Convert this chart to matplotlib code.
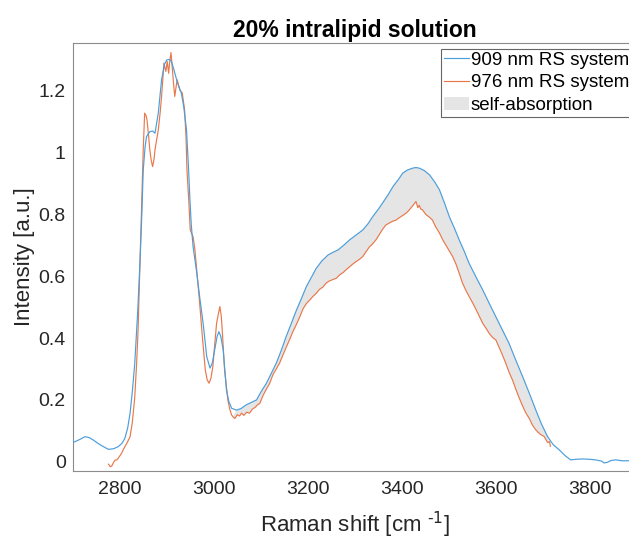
import numpy as np
import matplotlib
matplotlib.use("Agg")
import matplotlib.pyplot as plt

# --- datos (Raman shift en cm-1, intensidad en u.a.) ---
x_909 = [2700, 2705, 2715, 2726, 2735, 2744, 2755, 2765, 2776, 2787, 2797, 2805,
         2811, 2817, 2822, 2827, 2832, 2838, 2843, 2847, 2850, 2854, 2857, 2864,
         2870, 2875, 2882, 2889, 2895, 2900, 2905, 2910, 2915, 2921, 2926, 2931,
         2936, 2942, 2946, 2949, 2952, 2956, 2963, 2970, 2978, 2985, 2992, 2997,
         3002, 3007, 3011, 3015, 3020, 3024, 3027, 3032, 3038, 3048, 3058, 3069,
         3080, 3091, 3100, 3112, 3122, 3133, 3144, 3154, 3165, 3176, 3187, 3197,
         3208, 3218, 3230, 3243, 3254, 3264, 3276, 3289, 3303, 3317, 3328, 3338,
         3349, 3359, 3370, 3381, 3392, 3402, 3412, 3423, 3430, 3437, 3448, 3459,
         3470, 3480, 3490, 3501, 3512, 3522, 3533, 3543, 3557, 3572, 3586, 3600,
         3614, 3628, 3642, 3657, 3671, 3685, 3697, 3710, 3722, 3735, 3747, 3759,
         3772, 3784, 3798, 3812, 3825, 3830, 3837, 3845, 3855, 3868, 3881, 3900]
y_909 = [0.062, 0.065, 0.072, 0.081, 0.078, 0.070, 0.058, 0.049, 0.040, 0.042, 0.049, 0.060,
         0.076, 0.110, 0.157, 0.230, 0.319, 0.480, 0.643, 0.800, 0.944, 1.020, 1.052, 1.068,
         1.070, 1.063, 1.128, 1.236, 1.285, 1.300, 1.302, 1.295, 1.270, 1.236, 1.212, 1.193,
         1.150, 1.074, 0.960, 0.858, 0.770, 0.696, 0.620, 0.534, 0.440, 0.340, 0.303, 0.320,
         0.362, 0.405, 0.421, 0.405, 0.362, 0.290, 0.232, 0.195, 0.173, 0.167, 0.172, 0.184,
         0.192, 0.200, 0.225, 0.254, 0.285, 0.319, 0.362, 0.405, 0.448, 0.491, 0.530, 0.567,
         0.598, 0.626, 0.650, 0.669, 0.678, 0.685, 0.700, 0.718, 0.734, 0.750, 0.770, 0.793,
         0.815, 0.837, 0.862, 0.890, 0.912, 0.934, 0.944, 0.950, 0.952, 0.950, 0.942, 0.928,
         0.905, 0.880, 0.840, 0.793, 0.755, 0.718, 0.680, 0.642, 0.600, 0.556, 0.512, 0.469,
         0.426, 0.383, 0.330, 0.275, 0.222, 0.167, 0.122, 0.081, 0.055, 0.038, 0.020, 0.006,
         0.008, 0.009, 0.008, 0.006, 0.002, -0.004, -0.002, 0.004, 0.006, 0.003, 0.003, 0.004]

x_976 = [2776, 2780, 2783, 2787, 2790, 2794, 2797, 2803, 2811, 2816, 2822, 2827,
         2832, 2836, 2839, 2843, 2847, 2850, 2853, 2856, 2858, 2861, 2864, 2867,
         2870, 2873, 2875, 2879, 2882, 2886, 2889, 2892, 2894, 2896, 2898, 2901,
         2904, 2906, 2909, 2912, 2915, 2917, 2920, 2922, 2925, 2928, 2933, 2938,
         2941, 2943, 2947, 2950, 2953, 2956, 2960, 2965, 2970, 2976, 2982, 2986,
         2990, 2994, 2998, 3002, 3006, 3010, 3013, 3016, 3018, 3021, 3023, 3027,
         3030, 3034, 3038, 3041, 3045, 3050, 3055, 3059, 3064, 3070, 3076, 3082,
         3088, 3093, 3098, 3105, 3112, 3119, 3126, 3133, 3140, 3147, 3154, 3161,
         3168, 3176, 3183, 3190, 3197, 3204, 3211, 3218, 3225, 3232, 3239, 3246,
         3254, 3261, 3268, 3275, 3282, 3289, 3296, 3303, 3310, 3317, 3324, 3331,
         3338, 3345, 3352, 3359, 3366, 3373, 3380, 3388, 3395, 3402, 3409, 3416,
         3423, 3430, 3434, 3437, 3440, 3444, 3451, 3458, 3465, 3472, 3480, 3487,
         3494, 3501, 3508, 3515, 3522, 3529, 3536, 3543, 3551, 3558, 3565, 3572,
         3579, 3586, 3593, 3600, 3607, 3614, 3621, 3628, 3636, 3643, 3650, 3657,
         3664, 3671, 3678, 3685, 3690, 3695, 3700, 3703, 3707, 3710, 3714, 3716]
y_976 = [-0.008, -0.016, -0.014, -0.002, 0.005, 0.006, 0.012, 0.025, 0.049, 0.062, 0.081, 0.130,
         0.210, 0.320, 0.426, 0.640, 0.858, 1.010, 1.128, 1.120, 1.106, 1.060, 1.009, 0.975,
         0.955, 0.980, 1.009, 1.045, 1.074, 1.130, 1.182, 1.250, 1.290, 1.275, 1.263, 1.295,
         1.257, 1.290, 1.324, 1.268, 1.215, 1.182, 1.215, 1.236, 1.220, 1.203, 1.193, 1.139,
         1.050, 0.944, 0.840, 0.750, 0.738, 0.728, 0.685, 0.600, 0.513, 0.400, 0.297, 0.265,
         0.254, 0.270, 0.308, 0.380, 0.448, 0.480, 0.502, 0.470, 0.426, 0.350, 0.297, 0.240,
         0.200, 0.170, 0.151, 0.145, 0.140, 0.152, 0.148, 0.157, 0.150, 0.160, 0.157, 0.170,
         0.176, 0.184, 0.189, 0.215, 0.235, 0.254, 0.282, 0.300, 0.319, 0.345, 0.370, 0.394,
         0.420, 0.445, 0.469, 0.495, 0.512, 0.523, 0.535, 0.545, 0.558, 0.565, 0.578, 0.585,
         0.590, 0.594, 0.605, 0.612, 0.622, 0.631, 0.640, 0.648, 0.655, 0.664, 0.680, 0.695,
         0.705, 0.718, 0.735, 0.752, 0.766, 0.772, 0.778, 0.782, 0.790, 0.797, 0.804, 0.815,
         0.828, 0.842, 0.822, 0.830, 0.818, 0.815, 0.800, 0.792, 0.782, 0.760, 0.740, 0.718,
         0.700, 0.682, 0.664, 0.640, 0.610, 0.578, 0.555, 0.535, 0.513, 0.492, 0.470, 0.448,
         0.432, 0.415, 0.402, 0.394, 0.370, 0.345, 0.319, 0.290, 0.262, 0.232, 0.205, 0.180,
         0.157, 0.140, 0.118, 0.103, 0.095, 0.088, 0.084, 0.081, 0.070, 0.062, 0.065, 0.050]

inicio_banda = 3040   # donde empieza la zona de autoabsorción
xticks = [2800, 3000, 3200, 3400, 3600, 3800]
yticks = [0, 0.2, 0.4, 0.6, 0.8, 1.0, 1.2]
yticklabels = ["0", "0.2", "0.4", "0.6", "0.8", "1", "1.2"]

plt.rcParams['font.family'] = ['Liberation Sans', 'DejaVu Sans']
plt.rcParams['mathtext.default'] = 'regular'

fig = plt.figure(figsize=(6.29, 5.40), dpi=100)
ax = fig.add_axes([0.1156, 0.1278, 0.897, 0.7926])

bx = np.array(x_909)
by = np.array(y_909)
ox = np.array(x_976)
oy = np.array(y_976)

# poligono entre las dos curvas (zona de autoabsorción)
mb = (bx >= inicio_banda) & (bx <= ox[-1])
mo = ox >= inicio_banda
poly_x = np.concatenate([bx[mb], ox[mo][::-1]])
poly_y = np.concatenate([by[mb], oy[mo][::-1]])
ax.fill(poly_x, poly_y, color='#e5e5e5', edgecolor='none', label='self-absorption', zorder=1)

ax.plot(bx, by, color='#4a9edc', lw=0.85, label='909 nm RS system', zorder=3)
ax.plot(ox, oy, color='#e8784a', lw=0.85, label='976 nm RS system', zorder=2)

ax.set_xlim(2700, 3900)
ax.set_ylim(-0.03, 1.355)
ax.set_xticks(xticks)
ax.set_yticks(yticks)
ax.set_yticklabels(yticklabels)
ax.tick_params(axis='both', length=0, labelsize=14, labelcolor='#262626')
ax.tick_params(axis='x', pad=7)
ax.tick_params(axis='y', pad=5)
for s in ax.spines.values():
    s.set_color('#8c8c8c')
    s.set_linewidth(0.8)

ax.set_title("20% intralipid solution", fontsize=16.5, fontweight='bold', pad=4)
ax.set_xlabel(r"Raman shift [cm $^{\text{-1}}$]", fontsize=16, color='#262626', labelpad=9)
ax.set_ylabel("Intensity [a.u.]", fontsize=16, color='#262626', labelpad=2.5)

handles, labels = ax.get_legend_handles_labels()
orden = [labels.index('909 nm RS system'), labels.index('976 nm RS system'),
         labels.index('self-absorption')]
leg = ax.legend([handles[i] for i in orden], [labels[i] for i in orden],
                loc='upper left', bbox_to_anchor=(441 / 629, 1 - 49 / 540),
                bbox_transform=fig.transFigure, fontsize=13.5, frameon=True,
                fancybox=False, borderaxespad=0, borderpad=0.15, handlelength=1.35,
                handletextpad=0.1, labelspacing=0.28)
leg.get_frame().set_edgecolor('#404040')
leg.get_frame().set_linewidth(0.8)

fig.savefig("out.png", dpi=100)
